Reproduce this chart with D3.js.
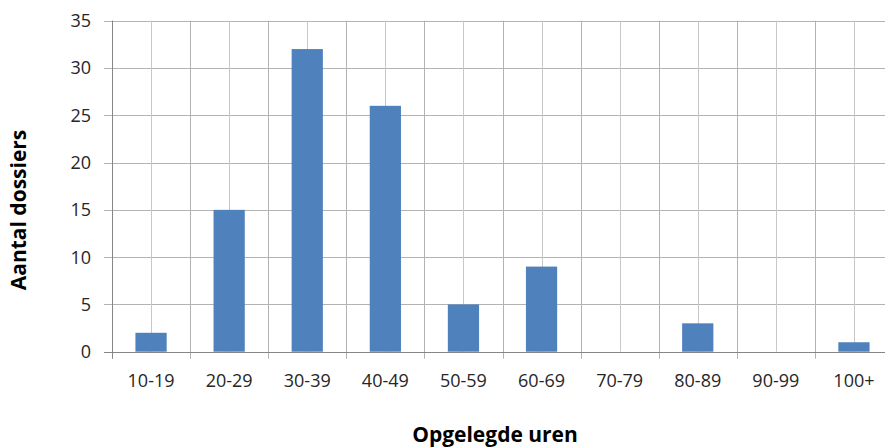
<!DOCTYPE html>
<html><head><meta charset="utf-8">
<script src="https://cdn.jsdelivr.net/npm/d3@7"></script>
<style>body{margin:0;background:#fff}svg{display:block}</style>
</head><body>
<svg id="c" width="885" height="448"></svg>
<script>
const categories = ["10-19","20-29","30-39","40-49","50-59","60-69","70-79","80-89","90-99","100+"];
const values = [2,15,32,26,5,9,0,3,0,1];
const yTicks = [0,5,10,15,20,25,30,35];
const xTitle = "Opgelegde uren";
const yTitle = "Aantal dossiers";

(function(){
const svg = d3.select("#c");
const pL = 112, pR = 893, pT = 20.7, pB = 351.7;
const font = "'Open Sans', sans-serif";

const x = d3.scaleBand().domain(categories).range([pL, pR]).paddingInner(0.6).paddingOuter(0.3);
const xb = d3.scaleBand().domain(categories).range([pL, pR]);
const y = d3.scaleLinear().domain([0,35]).range([pB, pT]);

const g = svg.append("g");
// horizontal grid
g.selectAll("line.h").data(yTicks).join("line")
  .attr("x1", pL - 8).attr("x2", pR)
  .attr("y1", d => Math.round(y(d)) + 0.5).attr("y2", d => Math.round(y(d)) + 0.5)
  .attr("stroke", "#b3b3b3").attr("stroke-width", 1);
// vertical grid at centers
g.selectAll("line.vc").data(categories).join("line")
  .attr("x1", d => Math.round(xb(d) + xb.bandwidth()/2) + 0.5)
  .attr("x2", d => Math.round(xb(d) + xb.bandwidth()/2) + 0.5)
  .attr("y1", pT).attr("y2", pB)
  .attr("stroke", "#c8c8c8").attr("stroke-width", 1);
// vertical grid at boundaries
const bounds = categories.map(d => xb(d)).concat([pR]);
g.selectAll("line.vb").data(bounds).join("line")
  .attr("x1", d => Math.round(d) + 0.5).attr("x2", d => Math.round(d) + 0.5)
  .attr("y1", pT).attr("y2", pB + 7)
  .attr("stroke", "#b3b3b3").attr("stroke-width", 1);

// bars
g.selectAll("rect").data(values).join("rect")
  .attr("x", (d,i) => x(categories[i]))
  .attr("width", x.bandwidth())
  .attr("y", d => y(d))
  .attr("height", d => y(0) - y(d))
  .attr("fill", "#4f81bd");

// axis lines
g.append("line").attr("x1", pL + 0.5).attr("x2", pL + 0.5).attr("y1", pT).attr("y2", pB + 7)
  .attr("stroke", "#868686");
g.append("line").attr("x1", pL - 8).attr("x2", pR).attr("y1", Math.round(pB) + 0.5).attr("y2", Math.round(pB) + 0.5)
  .attr("stroke", "#868686");

// y tick labels
g.selectAll("text.yt").data(yTicks).join("text")
  .attr("x", 91).attr("y", d => y(d)).attr("dy", "0.36em")
  .attr("text-anchor", "end").attr("font-family", font).attr("font-size", 18).attr("fill", "#262626")
  .text(d => d);
// x tick labels
g.selectAll("text.xt").data(categories).join("text")
  .attr("x", d => xb(d) + xb.bandwidth()/2).attr("y", 387)
  .attr("text-anchor", "middle").attr("font-family", font).attr("font-size", 18).attr("fill", "#262626")
  .text(d => d);

// titles
svg.append("text").attr("x", 495).attr("y", 442).attr("text-anchor", "middle")
  .attr("font-family", font).attr("font-weight", "bold").attr("font-size", 21).attr("fill", "#000")
  .text(xTitle);
svg.append("text").attr("transform", "translate(26,210) rotate(-90)").attr("text-anchor", "middle")
  .attr("font-family", font).attr("font-weight", "bold").attr("font-size", 21).attr("fill", "#000")
  .text(yTitle);
})();
</script>
</body></html>
